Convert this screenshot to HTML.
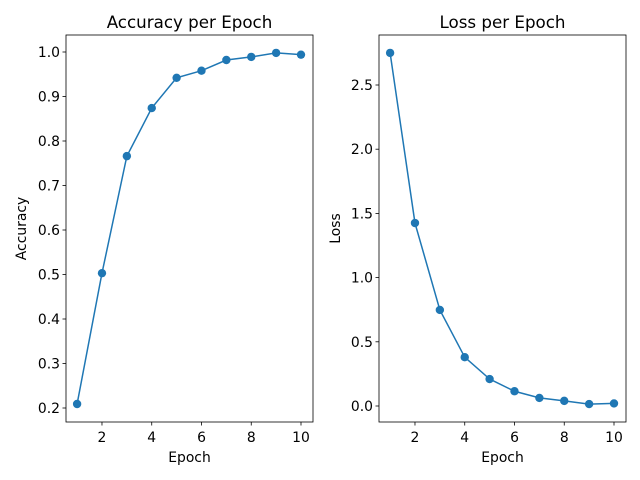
<!DOCTYPE html>
<html><head><meta charset="utf-8">
<style>
html,body{margin:0;padding:0;background:#fff;}
svg{display:block;font-family:"DejaVu Sans","Liberation Sans",sans-serif;}
</style></head>
<body>
<svg id="chart" width="640" height="480"></svg>
<script>
const epochs = [1,2,3,4,5,6,7,8,9,10];
const accuracy = [0.209,0.503,0.766,0.874,0.942,0.958,0.982,0.989,0.998,0.994];
const loss = [2.75,1.425,0.748,0.38,0.21,0.115,0.063,0.04,0.015,0.02];
const xTicks = [2,4,6,8,10];
const accTicks = [0.2,0.3,0.4,0.5,0.6,0.7,0.8,0.9,1.0];
const lossTicks = [0.0,0.5,1.0,1.5,2.0,2.5];
const accTickLabels = ["0.2","0.3","0.4","0.5","0.6","0.7","0.8","0.9","1.0"];
const lossTickLabels = ["0.0","0.5","1.0","1.5","2.0","2.5"];

const svg = document.getElementById('chart');
const NS = 'http://www.w3.org/2000/svg';
function mk(tag, attrs, parent){
  const e = document.createElementNS(NS, tag);
  for (const k in attrs) e.setAttribute(k, attrs[k]);
  (parent||svg).appendChild(e);
  return e;
}

function panel(opts){
  const {left,right,top,bottom,xDom,yDom,ys,yTicks,yLabels,title,ylabel,prefix} = opts;
  const sx = v => left + (v - xDom[0])/(xDom[1]-xDom[0])*(right-left);
  const sy = v => bottom - (v - yDom[0])/(yDom[1]-yDom[0])*(bottom-top);
  const g = mk('g', {});
  
  
  xTicks.forEach(t => {
    const x = sx(t);
    const l = mk('line', {x1:x,x2:x,y1:bottom,y2:bottom+3.5,stroke:'#000','stroke-width':0.8}, g);
    
    
    const tx = mk('text', {x:x,y:bottom+20,'font-size':13.9,'text-anchor':'middle',fill:'#000'}, g);
    tx.textContent = t;
    
    
  });
  yTicks.forEach((t,i) => {
    const y = sy(t);
    const l = mk('line', {x1:left-3.5,x2:left,y1:y,y2:y,stroke:'#000','stroke-width':0.8}, g);
    
    
    const tx = mk('text', {x:left-6,y:y+5,'font-size':13.9,'text-anchor':'end',fill:'#000'}, g);
    tx.textContent = yLabels[i];
    
    
  });
  const pts = epochs.map((e,i)=> sx(e)+','+sy(ys[i])).join(' ');
  const pl = mk('polyline', {points:pts,fill:'none',stroke:'#1f77b4','stroke-width':1.5}, g);
  
  
  epochs.forEach((e,i)=>{
    const c = mk('circle', {cx:sx(e),cy:sy(ys[i]),r:4.2,fill:'#1f77b4'}, g);
    
    
  });
  const fr = mk('rect', {x:left,y:top,width:right-left,height:bottom-top,fill:'none',stroke:'#000','stroke-width':0.8}, g);
  
  
  const tt = mk('text', {x:(left+right)/2,y:top-7,'font-size':16.7,'text-anchor':'middle',fill:'#000'}, g);
  tt.textContent = title;
  
  
  const xl = mk('text', {x:(left+right)/2,y:bottom+40,'font-size':13.9,'text-anchor':'middle',fill:'#000'}, g);
  xl.textContent = 'Epoch';
  
  
  const yx = opts.ylabelX, yy = (top+bottom)/2;
  const yl = mk('text', {x:yx,y:yy,'font-size':13.9,'text-anchor':'middle',fill:'#000',transform:`rotate(-90 ${yx} ${yy})`}, g);
  yl.textContent = ylabel;
  
  
}

const xd = [1 - (77.1-66)/24.875, 10 + (313-301)/24.875];
panel({left:66,right:313,top:35,bottom:422,xDom:xd,
  yDom:[0.2-(422-408)/445, 1.0+(52-35)/445],ys:accuracy,yTicks:accTicks,yLabels:accTickLabels,
  title:'Accuracy per Epoch',ylabel:'Accuracy',prefix:'accuracy',ylabelX:26});
panel({left:379,right:626,top:35,bottom:422,xDom:xd,
  yDom:[0-(422-406)/128.4, 2.5+(85-35)/128.4],ys:loss,yTicks:lossTicks,yLabels:lossTickLabels,
  title:'Loss per Epoch',ylabel:'Loss',prefix:'loss',ylabelX:340});
</script>
</body></html>
